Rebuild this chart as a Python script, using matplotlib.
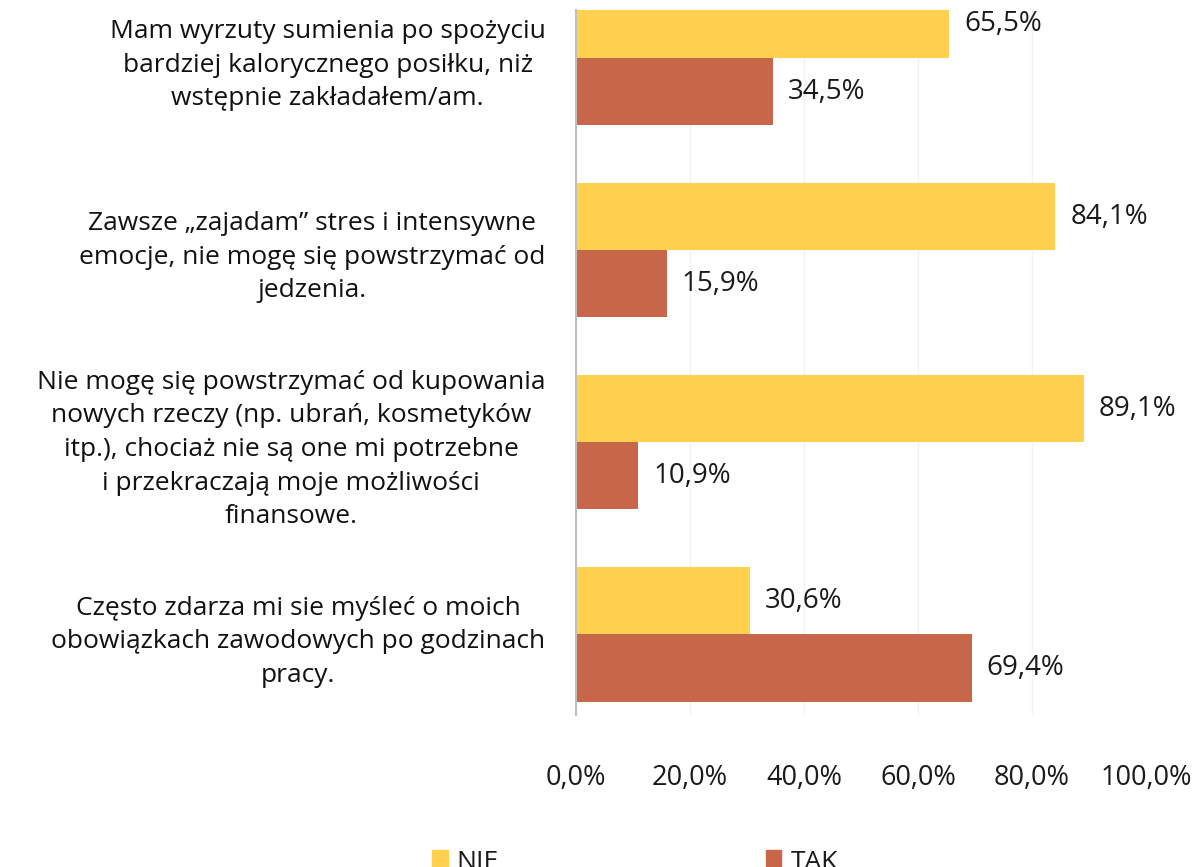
import numpy as np
import matplotlib.pyplot as plt
from matplotlib import rcParams
from matplotlib.patches import Patch

rcParams['font.family'] = ['Open Sans', 'DejaVu Sans']
rcParams['font.size'] = 19

# %%
categories = [
    'Mam wyrzuty sumienia po spożyciu\nbardziej kalorycznego posiłku, niż\nwstępnie zakładałem/am.',
    'Zawsze „zajadam” stres i intensywne\nemocje, nie mogę się powstrzymać od\njedzenia.',
    'Nie mogę się powstrzymać od kupowania\nnowych rzeczy (np. ubrań, kosmetyków\nitp.), chociaż nie są one mi potrzebne\ni przekraczają moje możliwości\nfinansowe.',
    'Często zdarza mi sie myśleć o moich\nobowiązkach zawodowych po godzinach\npracy.',
]
nie = [65.5, 84.1, 89.1, 30.6]
tak = [34.5, 15.9, 10.9, 69.4]
ticks = [0, 20, 40, 60, 80, 100]
tick_labels = ['0,0%', '20,0%', '40,0%', '60,0%', '80,0%', '100,0%']

c_nie = '#FFD14F'
c_tak = '#C8664A'

# %%
W, H = 1204, 867
fig = plt.figure(figsize=(W / 100, H / 100), dpi=100)
ax = fig.add_axes([576 / W, 1 - 715 / H, 570 / W, 705 / H])

y = np.arange(len(categories))
h = 0.35
ax.barh(y - h / 2, nie, height=h, color=c_nie, zorder=2)
ax.barh(y + h / 2, tak, height=h, color=c_tak, zorder=2)

for i in range(len(categories)):
    ax.text(nie[i] + 2.6, y[i] - h / 2, '{:.1f}%'.format(nie[i]).replace('.', ','),
            va='center', ha='left', fontsize=20, color='#1a1a1a')
    ax.text(tak[i] + 2.6, y[i] + h / 2, '{:.1f}%'.format(tak[i]).replace('.', ','),
            va='center', ha='left', fontsize=20, color='#1a1a1a')

ax.set_xlim(0, 100)
ax.set_ylim(3.42, -0.25)
ax.set_xticks(ticks)
ax.set_xticklabels(tick_labels, fontsize=19.5, color='#1a1a1a')
ax.tick_params(axis='x', length=0, pad=35)
ax.set_yticks(y)
ax.set_yticklabels(categories, fontsize=19, multialignment='center',
                   linespacing=1.45, color='#111111')
ax.tick_params(axis='y', length=0, pad=22)
ax.xaxis.grid(True, color='#F2F2F2', linewidth=1, zorder=0)
for s in ['top', 'right', 'bottom']:
    ax.spines[s].set_visible(False)
ax.spines['left'].set_color('#BFBFBF')
ax.spines['left'].set_linewidth(1.5)

handles = [Patch(color=c_nie), Patch(color=c_tak)]
fig.legend(handles, ['NIE', 'TAK'], ncol=2, loc='upper left',
           bbox_to_anchor=(408 / W, 1 - 826 / H), frameon=False,
           fontsize=19, handlelength=0.6, handleheight=0.75,
           handletextpad=0.35, columnspacing=10.1, labelcolor='#1a1a1a')

fig.savefig('out.png')
